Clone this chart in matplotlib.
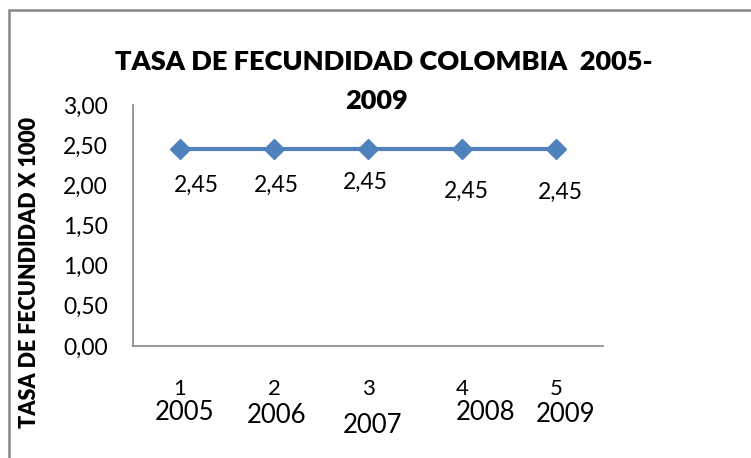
import matplotlib
matplotlib.use("Agg")
import matplotlib.pyplot as plt
from matplotlib.patches import Rectangle

# --- data ---
categories = [1, 2, 3, 4, 5]
years = ["2005", "2006", "2007", "2008", "2009"]
tasa = [2.45, 2.45, 2.45, 2.45, 2.45]

plt.rcParams["font.family"] = ["Lato", "DejaVu Sans"]

LINE_COLOR = "#4F81BD"
GRAY = "#868686"

fig = plt.figure(figsize=(7.51, 4.58), dpi=100)
ax = fig.add_axes([133 / 751, 1 - 346 / 458, 470 / 751, 241 / 458])

ax.plot(categories, tasa, color=LINE_COLOR, linewidth=3, marker="D",
        markersize=10, markerfacecolor=LINE_COLOR, markeredgecolor=LINE_COLOR,
        solid_capstyle="butt", zorder=3)

# data labels (hand-placed in the original, so small offsets differ)
label_offsets = [(12, -26), (1.5, -26), (-2, -24), (3.5, -30), (3.5, -31)]
for x, y, (dx, dy) in zip(categories, tasa, label_offsets):
    ax.annotate(f"{y:.2f}".replace(".", ","), (x, y), xytext=(dx, dy),
                textcoords="offset points", ha="center", va="center",
                fontsize=16.5)

ax.set_xlim(0.5, 5.5)
ax.set_ylim(0, 3)
ax.set_yticks([0, 0.5, 1, 1.5, 2, 2.5, 3])
ax.set_yticklabels([f"{v:.2f}".replace(".", ",") for v in ax.get_yticks()],
                   fontsize=16.5)
ax.set_xticks(categories)
ax.set_xticklabels([str(c) for c in categories], fontsize=16)
ax.tick_params(axis="y", length=0, pad=18)
ax.tick_params(axis="x", length=0, pad=24)

for s in ["top", "right"]:
    ax.spines[s].set_visible(False)
for s in ["left", "bottom"]:
    ax.spines[s].set_color(GRAY)
    ax.spines[s].set_linewidth(1.2)

# year text boxes under the category numbers (offsets in points)
year_offsets = [(3, -48), (1.5, -50), (3, -57), (17, -48), (7, -49)]
for x, yr, (dx, dy) in zip(categories, years, year_offsets):
    ax.annotate(yr, (x, 0), xytext=(dx, dy),
                textcoords="offset points", ha="center", va="center",
                fontsize=18.5, annotation_clip=False)

fig.text(384 / 751, 1 - 62 / 458, "TASA DE FECUNDIDAD COLOMBIA  2005-",
         ha="center", va="center", fontsize=19.5, fontweight="heavy")
fig.text(376 / 751, 1 - 101 / 458, "2009",
         ha="center", va="center", fontsize=19.5, fontweight="heavy")

fig.text(30 / 751, 1 - 272 / 458, "TASA DE FECUNDIDAD X 1000",
         rotation=90, ha="center", va="center", fontsize=15.5,
         fontweight="heavy")

# chart area border
fig.patches.append(Rectangle((9 / 751, -0.1), 1.2, 1 - 10 / 458 + 0.1,
                             transform=fig.transFigure, fill=False,
                             edgecolor=GRAY, linewidth=1.8))

fig.savefig("out.png", dpi=100)
